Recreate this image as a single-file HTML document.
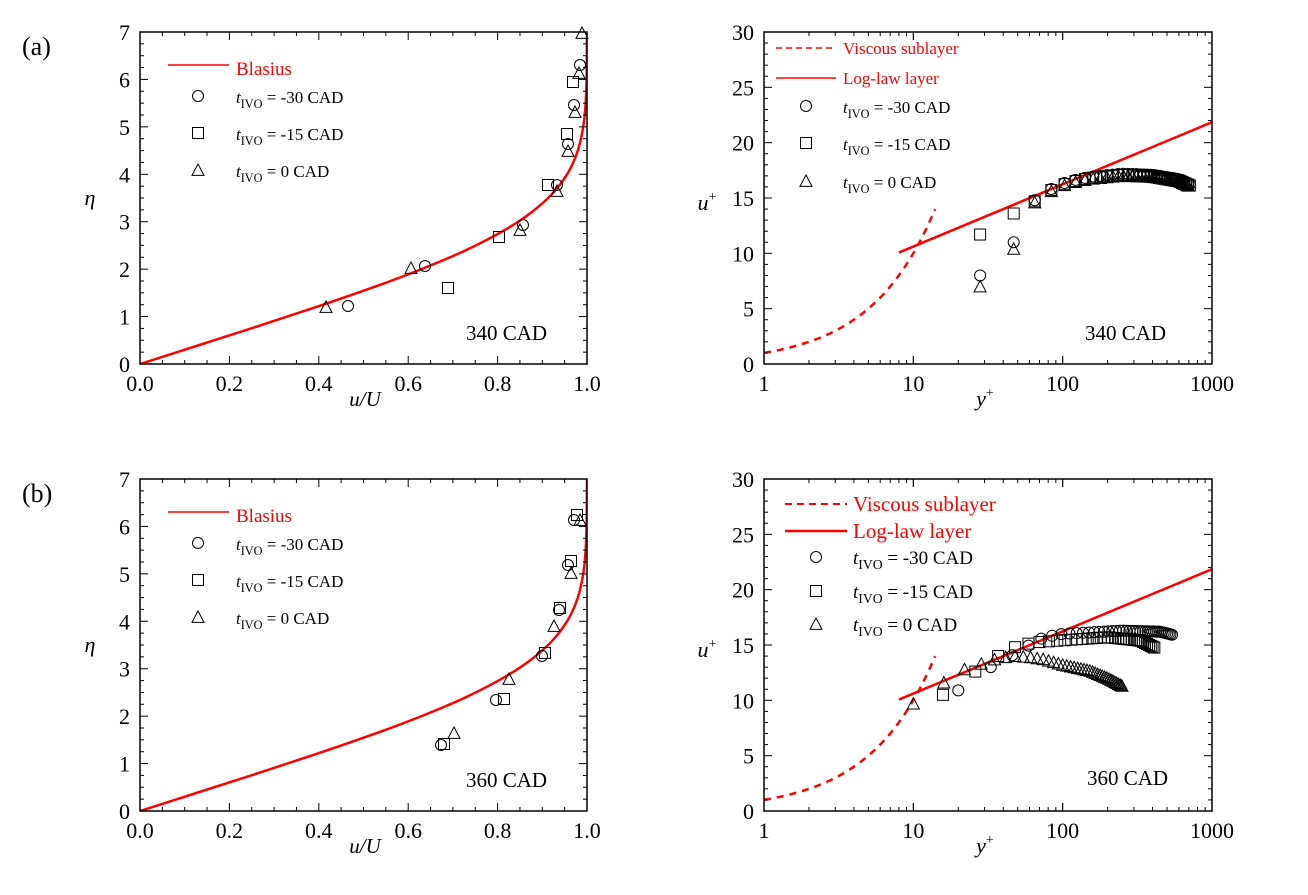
<!DOCTYPE html>
<html><head><meta charset="utf-8"><style>
body{margin:0;background:#fff}
svg{display:block;font-family:"Liberation Serif",serif}
</style></head><body>
<svg id="s" xmlns="http://www.w3.org/2000/svg" width="1308" height="895" viewBox="0 0 1308 895"></svg>
<script>
const S=document.getElementById('s');let H='';
function add(t){H+=t;}
const BL=[[0,0],[0.4,0.1328],[0.8,0.2647],[1.2,0.3938],[1.6,0.5168],[2.0,0.6298],[2.4,0.7290],[2.8,0.8115],[3.2,0.8761],[3.6,0.9233],[4.0,0.9555],[4.4,0.9759],[4.8,0.9878],[5.2,0.9943],[5.6,0.9975],[6.0,0.9990],[6.4,0.9996],[7,0.99995]];
function circ(x,y,r){return `<circle cx="${x}" cy="${y}" r="${r||5.5}" fill="none" stroke="#000" stroke-width="1"/>`;}
function sq(x,y,a){a=a||5.5;return `<rect x="${x-a}" y="${y-a}" width="${2*a}" height="${2*a}" fill="none" stroke="#000" stroke-width="1"/>`;}
function tri(x,y,a){a=a||6;return `<polygon points="${x},${y-a} ${x-a},${y+a*0.9} ${x+a},${y+a*0.9}" fill="none" stroke="#000" stroke-width="1"/>`;}
function mk(t,x,y,s){return t=='c'?circ(x,y,s):t=='s'?sq(x,y,s):tri(x,y,s);}
function txt(x,y,s,sz,opt){opt=opt||{};return `<text x="${x}" y="${y}" font-size="${sz}" fill="${opt.fill||'#000'}" text-anchor="${opt.a||'start'}" ${opt.it?'font-style="italic"':''}>${s}</text>`;}
function leg(x,y,sz,val){return `<text x="${x}" y="${y}" font-size="${sz}"><tspan font-style="italic">t</tspan><tspan font-size="${sz*0.72}" dy="5">IVO</tspan><tspan dy="-5"> = ${val} CAD</tspan></text>`;}
function spline(P){let d='M'+P[0][0].toFixed(1)+','+P[0][1].toFixed(1);
 for(let i=0;i<P.length-1;i++){const p0=P[i-1]||P[i],p1=P[i],p2=P[i+1],p3=P[i+2]||P[i+1];
  const c1=[p1[0]+(p2[0]-p0[0])/6,p1[1]+(p2[1]-p0[1])/6],c2=[p2[0]-(p3[0]-p1[0])/6,p2[1]-(p3[1]-p1[1])/6];
  d+=`C${c1[0].toFixed(1)},${c1[1].toFixed(1)} ${c2[0].toFixed(1)},${c2[1].toFixed(1)} ${p2[0].toFixed(1)},${p2[1].toFixed(1)}`;}
 return d;}
function leftPanel(dy,lbl,pts){
 const x0=140,x1=587,y0=32+dy,y1=364+dy;
 const X=v=>x0+(x1-x0)*v,Y=v=>y1-(y1-y0)*v/7;
 add(`<clipPath id="c${dy}"><rect x="${x0}" y="${y0}" width="${x1-x0}" height="${y1-y0}"/></clipPath>`);
 add(`<path d="${spline(BL.map(p=>[X(p[1]),Y(p[0])]))}" fill="none" stroke="#f00" stroke-width="2.5" clip-path="url(#c${dy})"/>`);
 for(let i=0;i<=20;i++){const v=i*0.05,x=X(v),L=i%4==0?8:4;add(`<line x1="${x}" y1="${y1}" x2="${x}" y2="${y1-L}" stroke="#000"/><line x1="${x}" y1="${y0}" x2="${x}" y2="${y0+L}" stroke="#000"/>`);
  if(i%4==0)add(txt(x,y1+27,(v).toFixed(1),22,{a:'middle'}));}
 for(let i=0;i<=28;i++){const v=i*0.25,y=Y(v),L=i%4==0?8:4;add(`<line x1="${x0}" y1="${y}" x2="${x0+L}" y2="${y}" stroke="#000"/><line x1="${x1}" y1="${y}" x2="${x1-L}" y2="${y}" stroke="#000"/>`);
  if(i%4==0)add(txt(x0-10,y+8,v,22,{a:'end'}));}
 add(`<rect x="${x0}" y="${y0}" width="${x1-x0}" height="${y1-y0}" fill="none" stroke="#000" stroke-width="1.5"/>`);
 add(txt(365,y1+27+15,'u/U',21,{a:'middle',it:1}));
 add(txt(90,y0+173,'η',22,{a:'middle',it:1}));
 add(`<line x1="168" y1="${65+dy}" x2="229" y2="${65+dy}" stroke="#f00" stroke-width="1.5"/>`);
 add(txt(236,75+dy,'Blasius',19,{fill:'#f00'}));
 add(circ(198,96+dy));add(leg(236,103+dy,17,'-30'));
 add(sq(198,133+dy));add(leg(236,140+dy,17,'-15'));
 add(tri(198,170+dy));add(leg(236,177+dy,17,'0'));
 add(txt(466,340+dy,lbl,21));
 pts.forEach(p=>add(mk(p[0],p[1],p[2]+dy)));
 add(txt(22,55+dy,dy?'(b)':'(a)',26));
}
leftPanel(0,'340 CAD',[['c',348,306],['c',425,266],['c',523,225],['c',557,185],['c',568,144],['c',574,105],['c',580,65],
 ['s',448,288],['s',499,237],['s',548,185],['s',567,134],['s',573,82],
 ['t',326,307],['t',411,268],['t',520,230],['t',557,191],['t',568,151],['t',575,112],['t',579,73],['t',582,33]]);
leftPanel(447,'360 CAD',[['c',574,73],['c',568,118],['c',559,163],['c',542,209],['c',496,253],['c',441,298],
 ['s',577,68],['s',571,114],['s',560,161],['s',545,206],['s',504,252],['s',444,297],
 ['t',580,73],['t',571,126],['t',554,179],['t',509,232],['t',454,286]]);
function interp(c,x){const lx=Math.log10(x);for(let i=0;i<c.length-1;i++){const a=Math.log10(c[i][0]),b=Math.log10(c[i+1][0]);if(lx<=b){return c[i][1]+(c[i+1][1]-c[i][1])*(lx-a)/(b-a);}}return c[c.length-1][1];}
function rightPanel(dy,lbl,series,big){
 const x0=764,x1=1212,y0=32+dy,y1=364+dy;
 const X=v=>x0+(x1-x0)*Math.log10(v)/3,Y=v=>y1-(y1-y0)*v/30;
 let d='';for(let i=0;i<=60;i++){const y=Math.pow(14,i/60);d+=(i?'L':'M')+X(y).toFixed(1)+','+Y(y).toFixed(1);}
 add(`<path d="${d}" fill="none" stroke="#f00" stroke-width="2.5" stroke-dasharray="7,6"/>`);
 add(`<line x1="${X(8)}" y1="${Y(Math.log(8)/0.41+5)}" x2="${X(1000)}" y2="${Y(Math.log(1000)/0.41+5)}" stroke="#f00" stroke-width="2.5"/>`);
 for(let dec=0;dec<3;dec++)for(let k=1;k<=10;k++){const v=k*Math.pow(10,dec),x=X(v),L=(k==1||k==10)?8:4;add(`<line x1="${x}" y1="${y1}" x2="${x}" y2="${y1-L}" stroke="#000"/><line x1="${x}" y1="${y0}" x2="${x}" y2="${y0+L}" stroke="#000"/>`);}
 [1,10,100,1000].forEach(v=>add(txt(X(v),y1+27,v,22,{a:'middle'})));
 for(let i=0;i<=30;i++){const y=Y(i),L=i%5==0?8:4;add(`<line x1="${x0}" y1="${y}" x2="${x0+L}" y2="${y}" stroke="#000"/><line x1="${x1}" y1="${y}" x2="${x1-L}" y2="${y}" stroke="#000"/>`);
  if(i%5==0)add(txt(x0-10,y+8,i,22,{a:'end'}));}
 add(`<rect x="${x0}" y="${y0}" width="${x1-x0}" height="${y1-y0}" fill="none" stroke="#000" stroke-width="1.5"/>`);
 add(`<text x="985" y="${y1+42}" font-size="22" text-anchor="middle" font-style="italic">y<tspan font-size="14" dy="-9" font-style="normal">+</tspan></text>`);
 add(`<text x="707" y="${y0+178}" font-size="22" text-anchor="middle" font-style="italic">u<tspan font-size="14" dy="-9" font-style="normal">+</tspan></text>`);
 series.forEach(s=>{s.pts.forEach(p=>add(mk(s.t,X(p[0]),Y(p[1]))));
  if(s.curve){for(let y=s.from;y<=s.to;y+=s.step)add(mk(s.t,X(y),Y(interp(s.curve,y))));}});
 if(big){
  add(`<line x1="785" y1="${57+dy}" x2="847" y2="${57+dy}" stroke="#f00" stroke-width="2" stroke-dasharray="7,5"/>`);
  add(txt(853,64+dy,'Viscous sublayer',21,{fill:'#f00'}));
  add(`<line x1="785" y1="${84+dy}" x2="847" y2="${84+dy}" stroke="#f00" stroke-width="2.5"/>`);
  add(txt(853,91+dy,'Log-law layer',21,{fill:'#f00'}));
  add(circ(816,110+dy));add(leg(853,117+dy,19,'-30'));
  add(sq(816,144+dy));add(leg(853,151+dy,19,'-15'));
  add(tri(816,177+dy));add(leg(853,184+dy,19,'0'));
  add(txt(1087,338+dy,lbl,21));
 }else{
  add(`<line x1="776" y1="48" x2="836" y2="48" stroke="#f00" stroke-width="1.5" stroke-dasharray="6,4"/>`);
  add(txt(843,54,'Viscous sublayer',17,{fill:'#f00'}));
  add(`<line x1="776" y1="78" x2="836" y2="78" stroke="#f00" stroke-width="1.5"/>`);
  add(txt(843,84,'Log-law layer',17,{fill:'#f00'}));
  add(circ(806,106));add(leg(843,113,17,'-30'));
  add(sq(806,143));add(leg(843,150,17,'-15'));
  add(tri(806,181));add(leg(843,188,17,'0'));
  add(txt(1085,340,lbl,21));
 }
}
const cA=[[65,14.8],[88,16],[110,16.5],[150,16.9],[250,17.2],[400,17.1],[600,16.7],[720,16.2]];
rightPanel(0,'340 CAD',[
 {t:'c',pts:[[28,8],[47,11]],curve:cA,from:65,to:720,step:19},
 {t:'s',pts:[[28,11.7],[47,13.6]],curve:cA.map(p=>[p[0],p[1]-0.1]),from:65,to:720,step:19},
 {t:'t',pts:[[28,7],[47,10.4]],curve:cA.map(p=>[p[0],p[1]-0.2]),from:65,to:710,step:19}],false);
rightPanel(447,'360 CAD',[
 {t:'c',pts:[[20,10.9],[33,13]],curve:[[45,14],[60,15],[75,15.7],[100,16],[250,16.3],[450,16.2],[550,15.9]],from:46,to:550,step:13},
 {t:'s',pts:[[15.8,10.5],[26,12.6]],curve:[[37,14],[48,14.8],[62,15.2],[75,15.3],[120,15.5],[200,15.7],[330,15.4],[420,14.7]],from:37,to:420,step:11},
 {t:'t',pts:[[10,9.7],[16,11.6]],curve:[[22,12.8],[30,13.4],[37,13.8],[47,14],[60,13.9],[75,13.7],[100,13.2],[150,12.7],[200,12],[250,11.3]],from:22,to:250,step:6.5}],true);
S.innerHTML=H;
</script>
</body></html>
